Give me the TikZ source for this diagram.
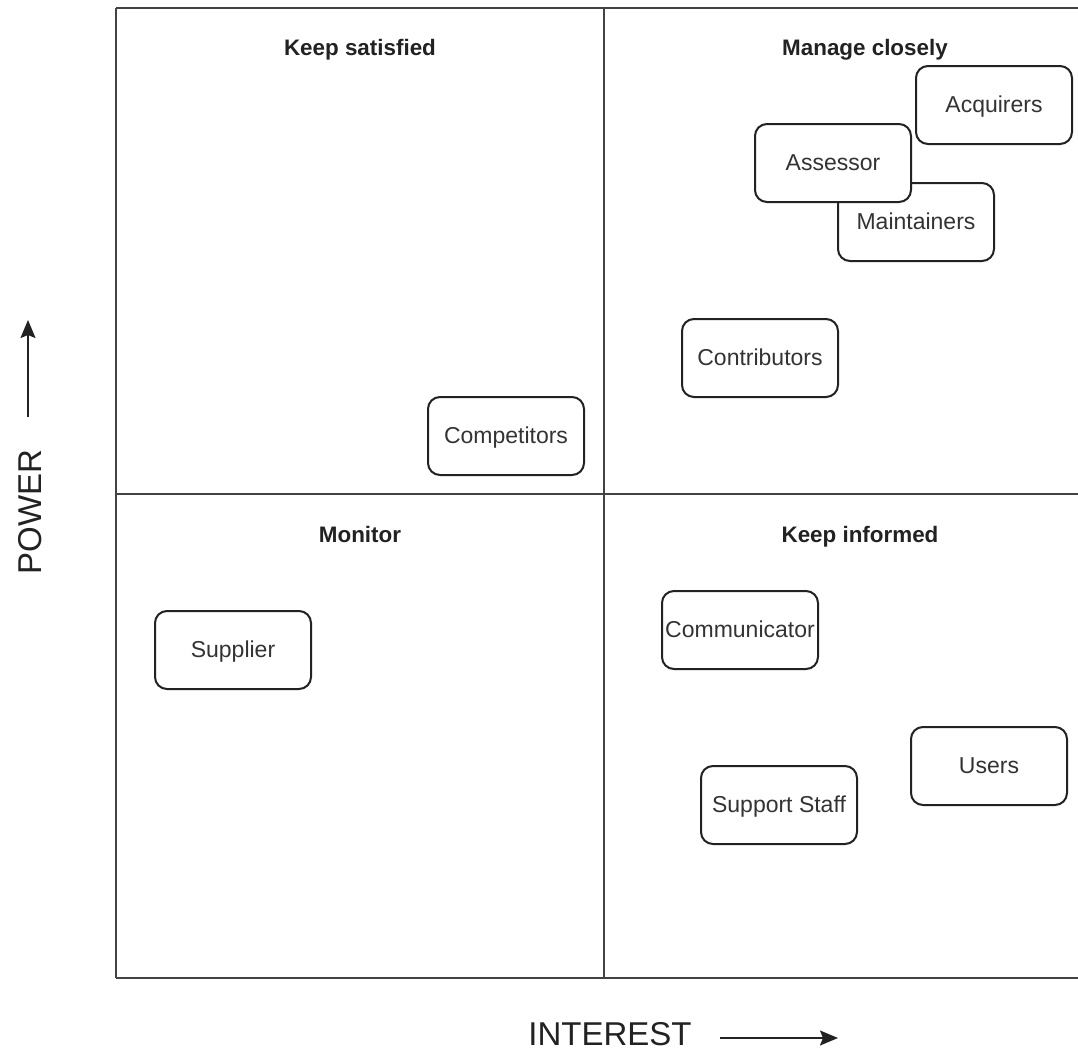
\documentclass[tikz,border=0pt]{standalone}
\usepackage{fontspec}
\setmainfont{Liberation Sans}
\usetikzlibrary{arrows.meta}
\definecolor{ink}{HTML}{222222}
\definecolor{txt}{HTML}{333333}
\begin{document}
\begin{tikzpicture}[x=0.5pt,y=-0.5pt,
  gridline/.style={draw=ink!85, line width=0.9pt},
  stake/.style={draw=ink, line width=1pt, rounded corners=6pt, fill=white,
    minimum width=78pt, minimum height=39pt, inner sep=0pt,
    text height=0.716em, text depth=0pt,
    font=\fontsize{11.5}{13}\selectfont, text=txt},
  quadtitle/.style={anchor=base, font=\fontsize{11.2}{13}\selectfont\bfseries, text=ink},
  axislabel/.style={inner sep=1pt, font=\fontsize{16.5}{19}\selectfont, text=ink},
  axisarrow/.style={draw=ink, line width=0.8pt,
    -{Stealth[length=9pt,width=7.5pt,inset=1.5pt]}}]
\useasboundingbox (0,0) rectangle (1078,1051);
\fill[white] (0,0) rectangle (1078,1051);

% quadrant grid (open on the right)
\draw[gridline] (116,8) -- (1080,8);
\draw[gridline] (116,494) -- (1080,494);
\draw[gridline] (116,978) -- (1080,978);
\draw[gridline] (116,8) -- (116,978);
\draw[gridline] (604,8) -- (604,978);

% quadrant titles
\node[quadtitle] (tks) at (360,55) {Keep satisfied};
\node[quadtitle] (tmc) at (865,55) {Manage closely};
\node[quadtitle] (tmo) at (360,542) {Monitor};
\node[quadtitle] (tki) at (860,542) {Keep informed};

% stakeholders
\node[stake] (acq) at (994,105) {Acquirers};
\node[stake] (mnt) at (916,222) {Maintainers};
\node[stake] (ass) at (833,163) {Assessor};
\node[stake] (con) at (760,358) {Contributors};
\node[stake] (cmp) at (506,436) {Competitors};
\node[stake] (sup) at (233,650) {Supplier};
\node[stake] (com) at (740,630) {Communicator};
\node[stake] (usr) at (989,766) {Users};
\node[stake] (sst) at (779,805) {Support Staff};

% axes
\node[axislabel, rotate=90, anchor=base] (power) at (41,512) {POWER};
\coordinate (pw0) at (28,417);
\coordinate (pw1) at (28,320);
\draw[axisarrow] (pw0) -- (pw1);

\node[axislabel, anchor=base] (interest) at (610,1045) {INTEREST};
\coordinate (in0) at (720,1038);
\coordinate (in1) at (838,1038);
\draw[axisarrow] (in0) -- (in1);
\end{tikzpicture}
\end{document}
